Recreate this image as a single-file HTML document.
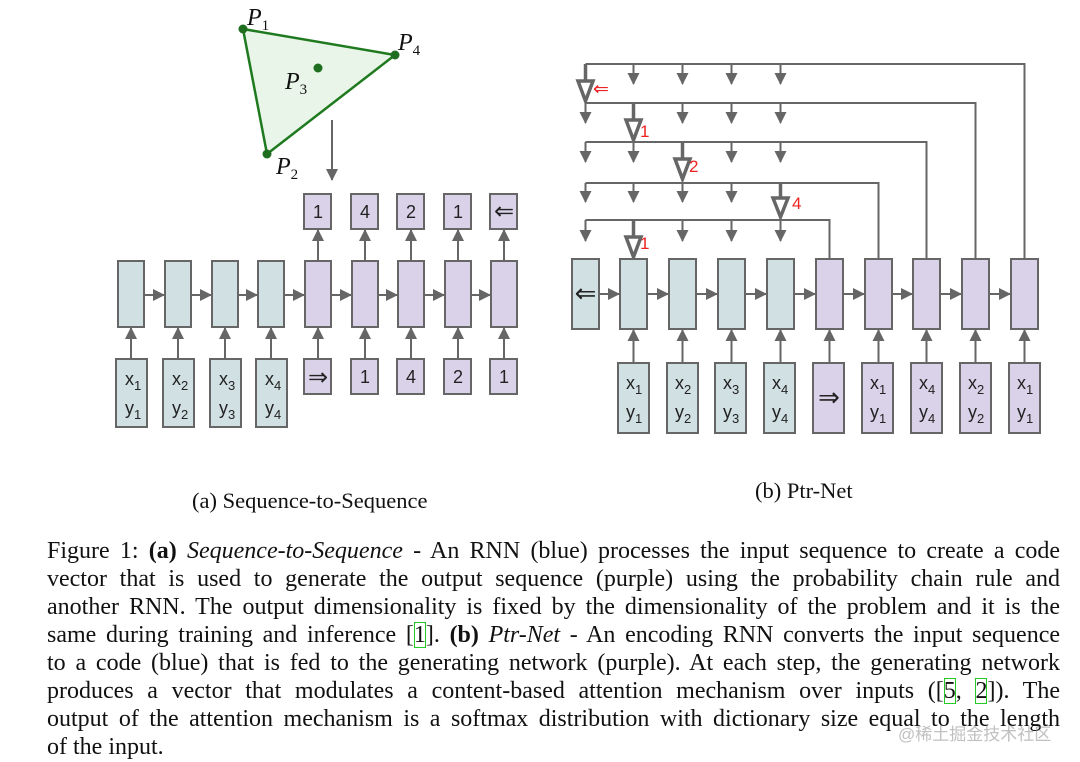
<!DOCTYPE html>
<html><head><meta charset="utf-8"><style>
html,body{margin:0;padding:0;background:#fff;}
body{width:1080px;height:762px;position:relative;overflow:hidden;}
svg{position:absolute;left:0;top:0;}
.cap{position:absolute;left:47px;top:537px;width:1013px;font-family:"Liberation Serif",serif;font-size:24px;line-height:28px;color:#111;}
.cap div{text-align:justify;text-align-last:justify;white-space:nowrap;}
.cap div.last{text-align-last:left;}
.g{outline:1.5px solid #2c2;outline-offset:-1px;}
.wm{position:absolute;left:898px;top:720px;font-family:"Liberation Sans","Noto Sans CJK SC",sans-serif;font-size:17px;color:rgba(150,150,150,0.6);}
</style></head><body>
<svg width="1080" height="762" viewBox="0 0 1080 762" font-family="Liberation Sans, sans-serif">
<defs>
<marker id="a" markerUnits="userSpaceOnUse" markerWidth="14" markerHeight="14" refX="11" refY="6" orient="auto"><path d="M0,0 L12,6 L0,12 z" fill="#666"/></marker>
</defs>
<polygon points="243,29 395,55 267,154" fill="#eaf5ea" stroke="#1f7a1f" stroke-width="2.5"/>
<circle cx="243" cy="29" r="4.5" fill="#1f6e1f"/><circle cx="395" cy="55" r="4.5" fill="#1f6e1f"/><circle cx="267" cy="154" r="4.5" fill="#1f6e1f"/><circle cx="318" cy="68" r="4.5" fill="#1f6e1f"/>
<g font-family="Liberation Serif, serif" font-style="italic" font-size="24" fill="#111">
<text x="247" y="25">P<tspan font-size="15" font-style="normal" dy="5">1</tspan></text>
<text x="398" y="50">P<tspan font-size="15" font-style="normal" dy="5">4</tspan></text>
<text x="285" y="89">P<tspan font-size="15" font-style="normal" dy="5">3</tspan></text>
<text x="276" y="174">P<tspan font-size="15" font-style="normal" dy="5">2</tspan></text>
</g>
<line x1="332" y1="120" x2="332" y2="180" stroke="#666" stroke-width="2" marker-end="url(#a)"/>

<g stroke="#666" stroke-width="2">
<rect x="118" y="261" width="26" height="66" fill="#d0e0e3"/>
<rect x="165" y="261" width="26" height="66" fill="#d0e0e3"/>
<rect x="212" y="261" width="26" height="66" fill="#d0e0e3"/>
<rect x="258" y="261" width="26" height="66" fill="#d0e0e3"/>
<rect x="305" y="261" width="26" height="66" fill="#d9d2e9"/>
<rect x="352" y="261" width="26" height="66" fill="#d9d2e9"/>
<rect x="398" y="261" width="26" height="66" fill="#d9d2e9"/>
<rect x="445" y="261" width="26" height="66" fill="#d9d2e9"/>
<rect x="491" y="261" width="26" height="66" fill="#d9d2e9"/>
<line x1="144" y1="295" x2="164" y2="295" marker-end="url(#a)"/>
<line x1="191" y1="295" x2="211" y2="295" marker-end="url(#a)"/>
<line x1="238" y1="295" x2="257" y2="295" marker-end="url(#a)"/>
<line x1="284" y1="295" x2="304" y2="295" marker-end="url(#a)"/>
<line x1="331" y1="295" x2="351" y2="295" marker-end="url(#a)"/>
<line x1="378" y1="295" x2="397" y2="295" marker-end="url(#a)"/>
<line x1="424" y1="295" x2="444" y2="295" marker-end="url(#a)"/>
<line x1="471" y1="295" x2="490" y2="295" marker-end="url(#a)"/>
<rect x="116" y="359" width="31" height="68" fill="#d0e0e3"/>
<rect x="163" y="359" width="31" height="68" fill="#d0e0e3"/>
<rect x="210" y="359" width="31" height="68" fill="#d0e0e3"/>
<rect x="256" y="359" width="31" height="68" fill="#d0e0e3"/>
<rect x="304" y="359" width="27" height="35" fill="#d9d2e9"/>
<rect x="351" y="359" width="27" height="35" fill="#d9d2e9"/>
<rect x="397" y="359" width="27" height="35" fill="#d9d2e9"/>
<rect x="444" y="359" width="27" height="35" fill="#d9d2e9"/>
<rect x="490" y="359" width="27" height="35" fill="#d9d2e9"/>
<line x1="131" y1="359" x2="131" y2="328" marker-end="url(#a)"/>
<line x1="178" y1="359" x2="178" y2="328" marker-end="url(#a)"/>
<line x1="225" y1="359" x2="225" y2="328" marker-end="url(#a)"/>
<line x1="271" y1="359" x2="271" y2="328" marker-end="url(#a)"/>
<line x1="318" y1="359" x2="318" y2="328" marker-end="url(#a)"/>
<line x1="365" y1="359" x2="365" y2="328" marker-end="url(#a)"/>
<line x1="411" y1="359" x2="411" y2="328" marker-end="url(#a)"/>
<line x1="458" y1="359" x2="458" y2="328" marker-end="url(#a)"/>
<line x1="504" y1="359" x2="504" y2="328" marker-end="url(#a)"/>
<rect x="304" y="194" width="27" height="35" fill="#d9d2e9"/>
<rect x="351" y="194" width="27" height="35" fill="#d9d2e9"/>
<rect x="397" y="194" width="27" height="35" fill="#d9d2e9"/>
<rect x="444" y="194" width="27" height="35" fill="#d9d2e9"/>
<rect x="490" y="194" width="27" height="35" fill="#d9d2e9"/>
<line x1="318" y1="261" x2="318" y2="230" marker-end="url(#a)"/>
<line x1="365" y1="261" x2="365" y2="230" marker-end="url(#a)"/>
<line x1="411" y1="261" x2="411" y2="230" marker-end="url(#a)"/>
<line x1="458" y1="261" x2="458" y2="230" marker-end="url(#a)"/>
<line x1="504" y1="261" x2="504" y2="230" marker-end="url(#a)"/>
</g>
<g font-size="18" fill="#222" text-anchor="middle">
<text x="318" y="218">1</text><text x="365" y="218">4</text><text x="411" y="218">2</text><text x="458" y="218">1</text><text x="504" y="219" font-size="24">⇐</text>
<text x="318" y="385" font-size="24">⇒</text><text x="365" y="383">1</text><text x="411" y="383">4</text><text x="458" y="383">2</text><text x="504" y="383">1</text>
</g>
<g font-size="18" fill="#222">
<text x="125" y="385">x<tspan font-size="13" dy="5">1</tspan></text><text x="125" y="414">y<tspan font-size="13" dy="5">1</tspan></text>
<text x="172" y="385">x<tspan font-size="13" dy="5">2</tspan></text><text x="172" y="414">y<tspan font-size="13" dy="5">2</tspan></text>
<text x="219" y="385">x<tspan font-size="13" dy="5">3</tspan></text><text x="219" y="414">y<tspan font-size="13" dy="5">3</tspan></text>
<text x="265" y="385">x<tspan font-size="13" dy="5">4</tspan></text><text x="265" y="414">y<tspan font-size="13" dy="5">4</tspan></text>
</g>

<g stroke="#666" stroke-width="2" fill="none">
<polyline points="585.5,64 1024.5,64 1024.5,259"/>
<polyline points="585.5,103 975.5,103 975.5,259"/>
<polyline points="585.5,142 926.5,142 926.5,259"/>
<polyline points="585.5,183 878.5,183 878.5,259"/>
<polyline points="585.5,220 829.5,220 829.5,259"/>
<line x1="633.5" y1="64" x2="633.5" y2="84" marker-end="url(#a)"/>
<line x1="682.5" y1="64" x2="682.5" y2="84" marker-end="url(#a)"/>
<line x1="731.5" y1="64" x2="731.5" y2="84" marker-end="url(#a)"/>
<line x1="780.5" y1="64" x2="780.5" y2="84" marker-end="url(#a)"/>
<line x1="585.5" y1="103" x2="585.5" y2="123" marker-end="url(#a)"/>
<line x1="682.5" y1="103" x2="682.5" y2="123" marker-end="url(#a)"/>
<line x1="731.5" y1="103" x2="731.5" y2="123" marker-end="url(#a)"/>
<line x1="780.5" y1="103" x2="780.5" y2="123" marker-end="url(#a)"/>
<line x1="585.5" y1="142" x2="585.5" y2="162" marker-end="url(#a)"/>
<line x1="633.5" y1="142" x2="633.5" y2="162" marker-end="url(#a)"/>
<line x1="731.5" y1="142" x2="731.5" y2="162" marker-end="url(#a)"/>
<line x1="780.5" y1="142" x2="780.5" y2="162" marker-end="url(#a)"/>
<line x1="585.5" y1="183" x2="585.5" y2="202" marker-end="url(#a)"/>
<line x1="633.5" y1="183" x2="633.5" y2="202" marker-end="url(#a)"/>
<line x1="682.5" y1="183" x2="682.5" y2="202" marker-end="url(#a)"/>
<line x1="731.5" y1="183" x2="731.5" y2="202" marker-end="url(#a)"/>
<line x1="585.5" y1="220" x2="585.5" y2="241" marker-end="url(#a)"/>
<line x1="682.5" y1="220" x2="682.5" y2="241" marker-end="url(#a)"/>
<line x1="731.5" y1="220" x2="731.5" y2="241" marker-end="url(#a)"/>
<line x1="780.5" y1="220" x2="780.5" y2="241" marker-end="url(#a)"/>
<g stroke-width="3.5">
<line x1="585.5" y1="64" x2="585.5" y2="81"/><polygon points="578,81 593,81 585.5,101"/>
<line x1="633.5" y1="103" x2="633.5" y2="120"/><polygon points="626,120 641,120 633.5,140"/>
<line x1="682.5" y1="142" x2="682.5" y2="159"/><polygon points="675,159 690,159 682.5,179"/>
<line x1="780.5" y1="183" x2="780.5" y2="198"/><polygon points="773,198 788,198 780.5,217"/>
<line x1="633.5" y1="220" x2="633.5" y2="237"/><polygon points="626,237 641,237 633.5,257"/>
</g>
</g>
<g fill="#e22" font-size="17">
<text x="593" y="95" font-size="19">⇐</text>
<text x="640" y="137">1</text>
<text x="689" y="172">2</text>
<text x="792" y="209">4</text>
<text x="640" y="249">1</text>
</g>
<g stroke="#666" stroke-width="2">
<rect x="572" y="259" width="27" height="70" fill="#d0e0e3"/>
<rect x="620" y="259" width="27" height="70" fill="#d0e0e3"/>
<rect x="669" y="259" width="27" height="70" fill="#d0e0e3"/>
<rect x="718" y="259" width="27" height="70" fill="#d0e0e3"/>
<rect x="767" y="259" width="27" height="70" fill="#d0e0e3"/>
<rect x="816" y="259" width="27" height="70" fill="#d9d2e9"/>
<rect x="865" y="259" width="27" height="70" fill="#d9d2e9"/>
<rect x="913" y="259" width="27" height="70" fill="#d9d2e9"/>
<rect x="962" y="259" width="27" height="70" fill="#d9d2e9"/>
<rect x="1011" y="259" width="27" height="70" fill="#d9d2e9"/>
<line x1="599" y1="294" x2="619" y2="294" marker-end="url(#a)"/>
<line x1="647" y1="294" x2="668" y2="294" marker-end="url(#a)"/>
<line x1="696" y1="294" x2="717" y2="294" marker-end="url(#a)"/>
<line x1="745" y1="294" x2="766" y2="294" marker-end="url(#a)"/>
<line x1="794" y1="294" x2="815" y2="294" marker-end="url(#a)"/>
<line x1="843" y1="294" x2="864" y2="294" marker-end="url(#a)"/>
<line x1="892" y1="294" x2="912" y2="294" marker-end="url(#a)"/>
<line x1="940" y1="294" x2="961" y2="294" marker-end="url(#a)"/>
<line x1="989" y1="294" x2="1010" y2="294" marker-end="url(#a)"/>
<rect x="618" y="363" width="31" height="70" fill="#d0e0e3"/>
<rect x="667" y="363" width="31" height="70" fill="#d0e0e3"/>
<rect x="715" y="363" width="31" height="70" fill="#d0e0e3"/>
<rect x="764" y="363" width="31" height="70" fill="#d0e0e3"/>
<rect x="813" y="363" width="31" height="70" fill="#d9d2e9"/>
<rect x="862" y="363" width="31" height="70" fill="#d9d2e9"/>
<rect x="911" y="363" width="31" height="70" fill="#d9d2e9"/>
<rect x="960" y="363" width="31" height="70" fill="#d9d2e9"/>
<rect x="1009" y="363" width="31" height="70" fill="#d9d2e9"/>
<line x1="633.5" y1="363" x2="633.5" y2="330" marker-end="url(#a)"/>
<line x1="682.5" y1="363" x2="682.5" y2="330" marker-end="url(#a)"/>
<line x1="731.5" y1="363" x2="731.5" y2="330" marker-end="url(#a)"/>
<line x1="780.5" y1="363" x2="780.5" y2="330" marker-end="url(#a)"/>
<line x1="829.5" y1="363" x2="829.5" y2="330" marker-end="url(#a)"/>
<line x1="878.5" y1="363" x2="878.5" y2="330" marker-end="url(#a)"/>
<line x1="926.5" y1="363" x2="926.5" y2="330" marker-end="url(#a)"/>
<line x1="975.5" y1="363" x2="975.5" y2="330" marker-end="url(#a)"/>
<line x1="1024.5" y1="363" x2="1024.5" y2="330" marker-end="url(#a)"/>
</g>
<g font-size="18" fill="#222">
<text x="585.5" y="302" font-size="26" text-anchor="middle">⇐</text>
<text x="829" y="406" font-size="26" text-anchor="middle">⇒</text>
<text x="626" y="389">x<tspan font-size="13" dy="5">1</tspan></text><text x="626" y="418">y<tspan font-size="13" dy="5">1</tspan></text>
<text x="675" y="389">x<tspan font-size="13" dy="5">2</tspan></text><text x="675" y="418">y<tspan font-size="13" dy="5">2</tspan></text>
<text x="723" y="389">x<tspan font-size="13" dy="5">3</tspan></text><text x="723" y="418">y<tspan font-size="13" dy="5">3</tspan></text>
<text x="772" y="389">x<tspan font-size="13" dy="5">4</tspan></text><text x="772" y="418">y<tspan font-size="13" dy="5">4</tspan></text>
<text x="870" y="389">x<tspan font-size="13" dy="5">1</tspan></text><text x="870" y="418">y<tspan font-size="13" dy="5">1</tspan></text>
<text x="919" y="389">x<tspan font-size="13" dy="5">4</tspan></text><text x="919" y="418">y<tspan font-size="13" dy="5">4</tspan></text>
<text x="968" y="389">x<tspan font-size="13" dy="5">2</tspan></text><text x="968" y="418">y<tspan font-size="13" dy="5">2</tspan></text>
<text x="1017" y="389">x<tspan font-size="13" dy="5">1</tspan></text><text x="1017" y="418">y<tspan font-size="13" dy="5">1</tspan></text>
</g>
<g font-family="Liberation Serif, serif" font-size="22.5" fill="#111">
<text x="192" y="508">(a) Sequence-to-Sequence</text>
<text x="755" y="498">(b) Ptr-Net</text>
</g>
</svg>
<div class="cap">
<div>Figure 1: <b>(a)</b> <i>Sequence-to-Sequence</i> - An RNN (blue) processes the input sequence to create a code</div>
<div>vector that is used to generate the output sequence (purple) using the probability chain rule and</div>
<div>another RNN. The output dimensionality is fixed by the dimensionality of the problem and it is the</div>
<div>same during training and inference [<span class="g">1</span>]. <b>(b)</b> <i>Ptr-Net</i> - An encoding RNN converts the input sequence</div>
<div>to a code (blue) that is fed to the generating network (purple). At each step, the generating network</div>
<div>produces a vector that modulates a content-based attention mechanism over inputs ([<span class="g">5</span>, <span class="g">2</span>]). The</div>
<div>output of the attention mechanism is a softmax distribution with dictionary size equal to the length</div>
<div class="last">of the input.</div>
</div>
<div class="wm">@稀土掘金技术社区</div>
</body></html>
